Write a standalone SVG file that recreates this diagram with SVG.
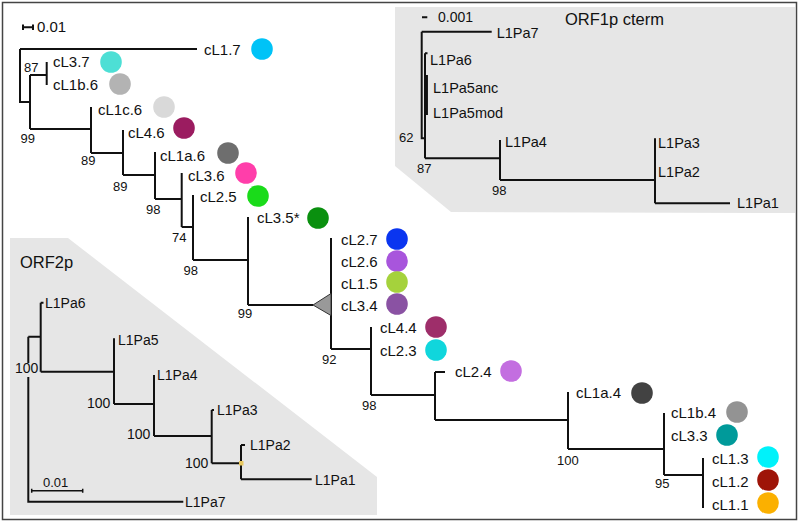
<svg xmlns="http://www.w3.org/2000/svg" width="800" height="523" viewBox="0 0 800 523">
<style>
text{font-family:"Liberation Sans",Arial,sans-serif;fill:#111}
.lb{font-size:15px}
.bs{font-size:13px}
.ib{font-size:14px}
.il{font-size:14.5px}
.ttl{font-size:16.5px}
.e{fill:none;stroke:#111;stroke-width:2}
</style>
<rect x="0" y="0" width="800" height="523" fill="#fff"/>
<g id="inset-orf1p">
<polygon points="395,7 795,7 795,213 451,212 395,166" fill="#e6e6e6"/>
<path class="e" d="M421.7,31.7H491.7M421.7,31.7V138.3H425M425,53.3V158.3M425,53.3H427.5M425,158.3H500M500,140V180M500,180H655M655,138.3V203.3M655,203.3H730M422,17.3H427.3"/>
<path d="M426.7,75V115" stroke="#111" stroke-width="2.5"/>
<text x="438" y="22" style="font-size:14px">0.001</text>
<text class="ttl" x="565" y="25">ORF1p cterm</text>
<text class="il" x="496.7" y="38">L1Pa7</text>
<text class="il" x="430" y="65">L1Pa6</text>
<text class="il" x="433" y="93">L1Pa5anc</text>
<text class="il" x="433" y="118">L1Pa5mod</text>
<text class="il" x="505" y="147">L1Pa4</text>
<text class="il" x="658" y="148">L1Pa3</text>
<text class="il" x="658" y="177">L1Pa2</text>
<text class="il" x="737" y="208">L1Pa1</text>
<text class="bs" x="399" y="142">62</text>
<text class="bs" x="417" y="173">87</text>
<text class="bs" x="492" y="195">98</text>
</g>
<g id="inset-orf2p">
<polygon points="10,238 68,238 377,477 377,515 10,515" fill="#e6e6e6"/>
<path class="e" d="M28.3,336.7V363M28.3,377V501.7H183.3M28.3,336.7H40.7M40.7,302.7V371.7M40.7,302.7H43.5M40.7,371.7H114M114,338.3V404M114,404H154M154,375V436M154,436H211.7M211.7,410V463.3M211.7,410H214M211.7,463.3H241M241,445V479.3M241,445H245M241,479.3H311.7"/>
<path d="M31.7,490.7H82.7M31.7,488.7V492.7M82.7,488.7V492.7" fill="none" stroke="#111" stroke-width="1.5"/>
<rect x="239" y="461" width="4.5" height="4.5" fill="#e8c860"/>
<text class="ttl" x="20" y="268">ORF2p</text>
<text class="ib" x="45" y="308">L1Pa6</text>
<text class="ib" x="118" y="345">L1Pa5</text>
<text class="ib" x="157" y="380">L1Pa4</text>
<text class="ib" x="217" y="415">L1Pa3</text>
<text class="ib" x="250" y="450">L1Pa2</text>
<text class="ib" x="315" y="485">L1Pa1</text>
<text class="ib" x="185" y="507">L1Pa7</text>
<text class="ib" x="15" y="372.5">100</text>
<text class="ib" x="87" y="407.5">100</text>
<text class="ib" x="127" y="439">100</text>
<text class="ib" x="185" y="468">100</text>
<text class="bs" x="43" y="486.5">0.01</text>
</g>
<g id="connectors">
<path class="e" d="M20,49H197M20,49V102H30M30,75V129M30,75H46.7M46.7,62V85M30,129H91M91,107V153M91,153H123M123,130V175M123,175H155M155,152V199M155,199H181.7M181.7,173V227M181.7,227H193M193,195V260M193,260H248M248,217V305M248,305H313M331,238V349M331,349H371M371,327V395M371,395H435M435,372V420M435,372H445M435,420H568M568,392V449M568,449H664M664,413V475M664,475H703M703,458V508M23,27.3H33M23,24.5V30M33,24.5V30"/>
<polygon points="313,305 331,293.5 331,315.5" fill="#999" stroke="#333" stroke-width="1"/>
</g>
<g id="scale"><text class="lb" x="37" y="32">0.01</text></g>
<g id="n-cL1.7"><text class="lb" x="204" y="55">cL1.7</text><circle cx="262" cy="49" r="10.8" fill="#00c3f7"/></g>
<g id="n-cL3.7"><text class="lb" x="53" y="67">cL3.7</text><circle cx="111" cy="62" r="10.8" fill="#4ddfd5"/></g>
<g id="n-cL1b.6"><text class="lb" x="53" y="90">cL1b.6</text><circle cx="120" cy="84" r="10.8" fill="#b3b3b3"/></g>
<g id="n-cL1c.6"><text class="lb" x="98" y="115">cL1c.6</text><circle cx="164" cy="107" r="10.8" fill="#d9d9d9"/></g>
<g id="n-cL4.6"><text class="lb" x="128" y="138">cL4.6</text><circle cx="184" cy="128" r="10.8" fill="#9b1c60"/></g>
<g id="n-cL1a.6"><text class="lb" x="160" y="161">cL1a.6</text><circle cx="228" cy="153" r="10.8" fill="#6e6e6e"/></g>
<g id="n-cL3.6"><text class="lb" x="188" y="181">cL3.6</text><circle cx="246" cy="173" r="10.8" fill="#ff3eaa"/></g>
<g id="n-cL2.5"><text class="lb" x="200" y="202">cL2.5</text><circle cx="258" cy="196" r="10.8" fill="#1adb1a"/></g>
<g id="n-cL3.5"><text class="lb" x="257" y="223">cL3.5*</text><circle cx="318" cy="218" r="10.8" fill="#0a900f"/></g>
<g id="n-cL2.7"><text class="lb" x="341" y="245">cL2.7</text><circle cx="397" cy="239" r="10.8" fill="#0a35f0"/></g>
<g id="n-cL2.6"><text class="lb" x="341" y="267">cL2.6</text><circle cx="397" cy="261" r="10.8" fill="#a855dc"/></g>
<g id="n-cL1.5"><text class="lb" x="341" y="289">cL1.5</text><circle cx="397" cy="282" r="10.8" fill="#a5d23c"/></g>
<g id="n-cL3.4"><text class="lb" x="341" y="311">cL3.4</text><circle cx="397" cy="304" r="10.8" fill="#8a52a3"/></g>
<g id="n-cL4.4"><text class="lb" x="380" y="333">cL4.4</text><circle cx="436" cy="327" r="10.8" fill="#9e2e6a"/></g>
<g id="n-cL2.3"><text class="lb" x="380" y="356">cL2.3</text><circle cx="436" cy="350" r="10.8" fill="#10d6dc"/></g>
<g id="n-cL2.4"><text class="lb" x="455" y="377">cL2.4</text><circle cx="511" cy="371" r="10.8" fill="#c36ee0"/></g>
<g id="n-cL1a.4"><text class="lb" x="576" y="398">cL1a.4</text><circle cx="642" cy="393" r="10.8" fill="#424242"/></g>
<g id="n-cL1b.4"><text class="lb" x="671" y="418">cL1b.4</text><circle cx="737" cy="412" r="10.8" fill="#939393"/></g>
<g id="n-cL3.3"><text class="lb" x="671" y="441">cL3.3</text><circle cx="727" cy="435" r="10.8" fill="#009a9a"/></g>
<g id="n-cL1.3"><text class="lb" x="712" y="464">cL1.3</text><circle cx="768" cy="457" r="10.8" fill="#00f2fa"/></g>
<g id="n-cL1.2"><text class="lb" x="712" y="487">cL1.2</text><circle cx="768" cy="480" r="10.8" fill="#9e1408"/></g>
<g id="n-cL1.1"><text class="lb" x="712" y="510">cL1.1</text><circle cx="768" cy="503" r="10.8" fill="#fbb000"/></g>
<g id="bootstrap">
<text class="bs" x="24" y="71.7">87</text>
<text class="bs" x="20.5" y="142.5">99</text>
<text class="bs" x="81" y="165">89</text>
<text class="bs" x="113" y="190.5">89</text>
<text class="bs" x="146" y="214">98</text>
<text class="bs" x="172" y="242">74</text>
<text class="bs" x="183.5" y="275">98</text>
<text class="bs" x="237.7" y="318">99</text>
<text class="bs" x="322" y="364">92</text>
<text class="bs" x="362" y="410">98</text>
<text class="bs" x="557" y="465">100</text>
<text class="bs" x="655" y="488">95</text>
</g>
<rect x="2.5" y="2.5" width="794" height="517" fill="none" stroke="#444" stroke-width="1.5"/>
</svg>
